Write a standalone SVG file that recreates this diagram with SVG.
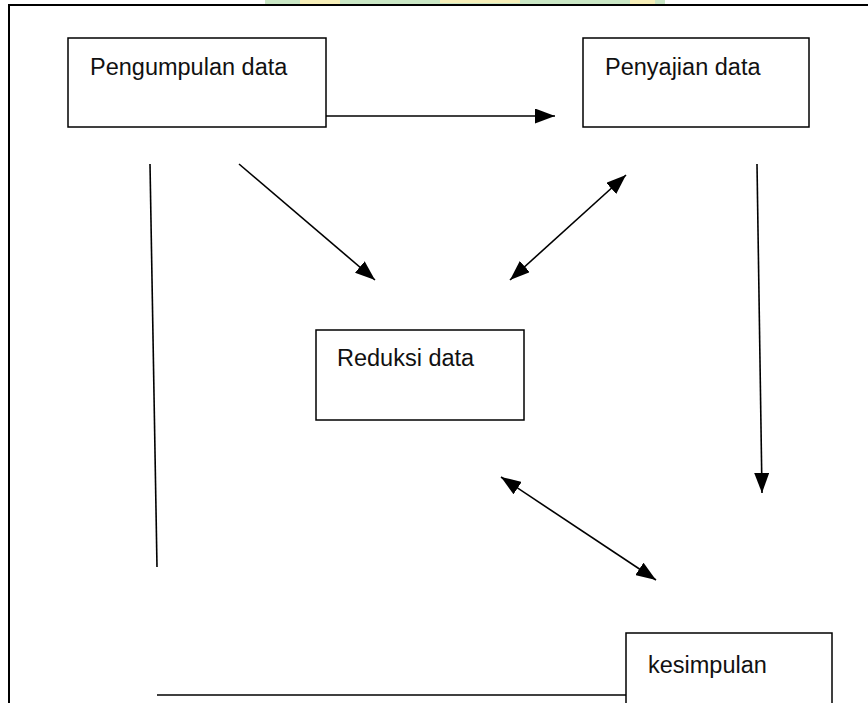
<svg xmlns="http://www.w3.org/2000/svg" width="868" height="703" viewBox="0 0 868 703">
<style>
.box{fill:#fff;stroke:#000;stroke-width:1.5}
.lbl{font-family:"Liberation Sans",Arial,sans-serif;font-size:23.5px;fill:#111}
.con{stroke:#000;stroke-width:1.6;fill:none}
</style>
<defs>
<marker id="ah" viewBox="0 0 20 15" refX="20" refY="7.5" markerWidth="20" markerHeight="15" markerUnits="userSpaceOnUse" orient="auto-start-reverse">
<path d="M0,0 L20,7.5 L0,15 Z" fill="#000"/>
</marker>
</defs>
<rect width="868" height="703" fill="#fff"/>
<g id="watermark" opacity="0.6">
<rect x="265" y="0" width="400" height="4" fill="#a8d8a0"/>
<rect x="300" y="0" width="40" height="4" fill="#f2e68a"/>
<rect x="440" y="0" width="80" height="3" fill="#f2e68a"/>
<rect x="630" y="0" width="25" height="4" fill="#f2e68a"/>
</g>
<g id="frame">
<path d="M9,703 L9,5 L868,5" fill="none" stroke="#000" stroke-width="2"/>
</g>
<g id="connectors">
<line class="con" x1="326" y1="116" x2="555" y2="116" marker-end="url(#ah)"/>
<line class="con" x1="239" y1="164" x2="375" y2="280" marker-end="url(#ah)"/>
<line class="con" x1="510" y1="280" x2="626" y2="175" marker-start="url(#ah)" marker-end="url(#ah)"/>
<line class="con" x1="757" y1="164" x2="762" y2="493" marker-end="url(#ah)"/>
<line class="con" x1="501" y1="477" x2="656" y2="580" marker-start="url(#ah)" marker-end="url(#ah)"/>
<line class="con" x1="150" y1="164" x2="157" y2="567"/>
<line class="con" x1="157" y1="695" x2="626" y2="695"/>
</g>
<g id="pengumpulan">
<rect class="box" x="68" y="38" width="258" height="89"/>
<text class="lbl" x="90" y="75">Pengumpulan data</text>
</g>
<g id="penyajian">
<rect class="box" x="583" y="38" width="226" height="89"/>
<text class="lbl" x="605" y="75">Penyajian data</text>
</g>
<g id="reduksi">
<rect class="box" x="316" y="330" width="208" height="90"/>
<text class="lbl" x="337" y="366">Reduksi data</text>
</g>
<g id="kesimpulan">
<rect class="box" x="626" y="633" width="206" height="80"/>
<text class="lbl" x="648" y="673">kesimpulan</text>
</g>
</svg>
